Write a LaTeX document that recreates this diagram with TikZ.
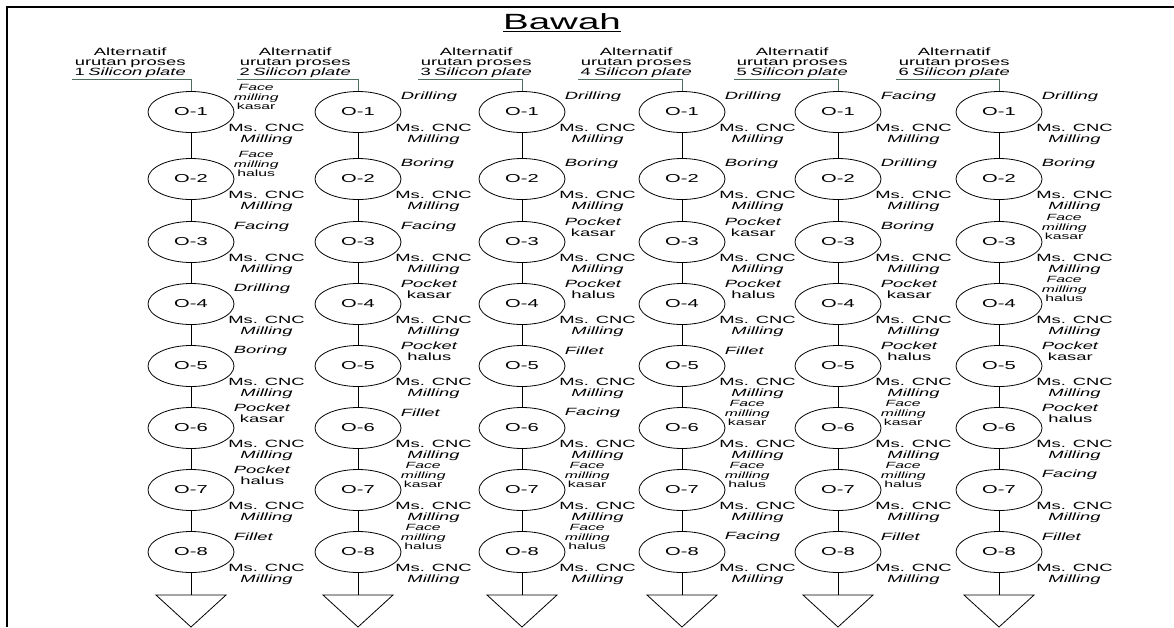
\documentclass[tikz,border=0pt]{standalone}
\usepackage{fontspec}
\setmainfont{Liberation Sans}[FakeStretch=1.75]
\usetikzlibrary{positioning}
\usetikzlibrary{shapes.geometric}
\definecolor{hdr-green}{HTML}{4E6E5D}
\newcommand{\facemill}[1]{\textit{Face}\\\textit{milling}\\#1}
\newcommand{\pocketop}[1]{\textit{Pocket}\\#1}
\tikzset{
  opnode/.style={
    ellipse,
    draw,
    line width=0.8pt,
    minimum width=86pt,
    minimum height=41pt,
    inner sep=0pt,
    font=\fontsize{11.5}{12}\selectfont},
}

\begin{document}
\begin{tikzpicture}[x=1pt, y=-1pt,
  header/.style={anchor=south west, text width=116pt, align=center, inner xsep=0pt, inner ysep=1.5pt, font=\fontsize{10.5}{10}\selectfont},
  op/.style={align=center, inner sep=0pt, font=\fontsize{10.5}{10.5}\selectfont},
  opsm/.style={op, font=\fontsize{9}{9.5}\selectfont},
  machine/.style={align=center, inner sep=0pt, font=\fontsize{10.5}{11}\selectfont},
  flow/.style={line width=1pt},
  hdrline/.style={line width=1pt, hdr-green},
  endtri/.style={line width=0.8pt}
]
\useasboundingbox (0,0) rectangle (1174,627);

% Frame and title
\draw[line width=2pt] (7,627) -- (7,6.5) -- (1174,6.5);
\node[font=\fontsize{22}{24}\selectfont] (title) at (562, 22.5) {\underline{Bawah}};

% Alternatif 1
\node[header] (h1) at (72, 79) {Alternatif\\urutan proses\\1 \textit{Silicon plate}};
\foreach \st/\optext [count=\i] in {opsm/\facemill{kasar}, opsm/\facemill{halus}, op/\textit{Facing}, op/\textit{Drilling}, op/\textit{Boring}, op/\pocketop{kasar}, op/\pocketop{halus}, op/\textit{Fillet}} {
  \pgfmathsetmacro{\ry}{{112,179,242,304,366,428,490,552}[\i-1]}
  \node[opnode] (a1-o\i) at (191, \ry) {O-\i};
  \node[\st, right=12pt of a1-o\i.north east] (a1-l\i) {\optext};
  \node[machine, right=6.5pt of a1-o\i.south east, yshift=-7.5pt] (a1-m\i) {Ms. CNC\\\textit{Milling}};
}
\coordinate (e1) at (191, 595);

% Alternatif 2
\node[header] (h2) at (237, 79) {Alternatif\\urutan proses\\2 \textit{Silicon plate}};
\foreach \st/\optext [count=\i] in {op/\textit{Drilling}, op/\textit{Boring}, op/\textit{Facing}, op/\pocketop{kasar}, op/\pocketop{halus}, op/\textit{Fillet}, opsm/\facemill{kasar}, opsm/\facemill{halus}} {
  \pgfmathsetmacro{\ry}{{112,179,242,304,366,428,490,552}[\i-1]}
  \node[opnode] (a2-o\i) at (358, \ry) {O-\i};
  \node[\st, right=12pt of a2-o\i.north east] (a2-l\i) {\optext};
  \node[machine, right=6.5pt of a2-o\i.south east, yshift=-7.5pt] (a2-m\i) {Ms. CNC\\\textit{Milling}};
}
\coordinate (e2) at (358, 595);

% Alternatif 3
\node[header] (h3) at (418, 79) {Alternatif\\urutan proses\\3 \textit{Silicon plate}};
\foreach \st/\optext [count=\i] in {op/\textit{Drilling}, op/\textit{Boring}, op/\pocketop{kasar}, op/\pocketop{halus}, op/\textit{Fillet}, op/\textit{Facing}, opsm/\facemill{kasar}, opsm/\facemill{halus}} {
  \pgfmathsetmacro{\ry}{{112,179,242,304,366,428,490,552}[\i-1]}
  \node[opnode] (a3-o\i) at (522, \ry) {O-\i};
  \node[\st, right=12pt of a3-o\i.north east] (a3-l\i) {\optext};
  \node[machine, right=6.5pt of a3-o\i.south east, yshift=-7.5pt] (a3-m\i) {Ms. CNC\\\textit{Milling}};
}
\coordinate (e3) at (522, 595);

% Alternatif 4
\node[header] (h4) at (578, 79) {Alternatif\\urutan proses\\4 \textit{Silicon plate}};
\foreach \st/\optext [count=\i] in {op/\textit{Drilling}, op/\textit{Boring}, op/\pocketop{kasar}, op/\pocketop{halus}, op/\textit{Fillet}, opsm/\facemill{kasar}, opsm/\facemill{halus}, op/\textit{Facing}} {
  \pgfmathsetmacro{\ry}{{112,179,242,304,366,428,490,552}[\i-1]}
  \node[opnode] (a4-o\i) at (682, \ry) {O-\i};
  \node[\st, right=12pt of a4-o\i.north east] (a4-l\i) {\optext};
  \node[machine, right=6.5pt of a4-o\i.south east, yshift=-7.5pt] (a4-m\i) {Ms. CNC\\\textit{Milling}};
}
\coordinate (e4) at (682, 595);

% Alternatif 5
\node[header] (h5) at (734, 79) {Alternatif\\urutan proses\\5 \textit{Silicon plate}};
\foreach \st/\optext [count=\i] in {op/\textit{Facing}, op/\textit{Drilling}, op/\textit{Boring}, op/\pocketop{kasar}, op/\pocketop{halus}, opsm/\facemill{kasar}, opsm/\facemill{halus}, op/\textit{Fillet}} {
  \pgfmathsetmacro{\ry}{{112,179,242,304,366,428,490,552}[\i-1]}
  \node[opnode] (a5-o\i) at (838, \ry) {O-\i};
  \node[\st, right=12pt of a5-o\i.north east] (a5-l\i) {\optext};
  \node[machine, right=6.5pt of a5-o\i.south east, yshift=-7.5pt] (a5-m\i) {Ms. CNC\\\textit{Milling}};
}
\coordinate (e5) at (838, 595);

% Alternatif 6
\node[header] (h6) at (896, 79) {Alternatif\\urutan proses\\6 \textit{Silicon plate}};
\foreach \st/\optext [count=\i] in {op/\textit{Drilling}, op/\textit{Boring}, opsm/\facemill{kasar}, opsm/\facemill{halus}, op/\pocketop{kasar}, op/\pocketop{halus}, op/\textit{Facing}, op/\textit{Fillet}} {
  \pgfmathsetmacro{\ry}{{112,179,242,304,366,428,490,552}[\i-1]}
  \node[opnode] (a6-o\i) at (999, \ry) {O-\i};
  \node[\st, right=12pt of a6-o\i.north east] (a6-l\i) {\optext};
  \node[machine, right=6.5pt of a6-o\i.south east, yshift=-7.5pt] (a6-m\i) {Ms. CNC\\\textit{Milling}};
}
\coordinate (e6) at (999, 595);

% Edges
\foreach \c in {1,...,6} {
  \draw[hdrline] (h\c.south west) -| (a\c-o1.north);
  \foreach \i [evaluate=\i as \j using int(\i+1)] in {1,...,7}
    \draw[flow] (a\c-o\i) -- (a\c-o\j);
  \draw[flow] (a\c-o8) -- (e\c);
  \draw[endtri] (e\c) -- ++(-35,0) -- ++(35,32) -- ++(35,-32) -- cycle;
}
\end{tikzpicture}
\end{document}
